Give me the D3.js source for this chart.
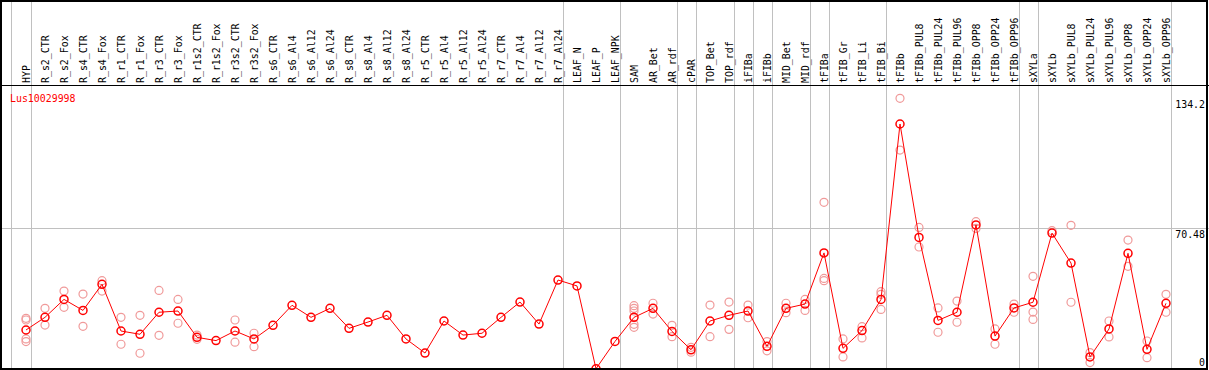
<!DOCTYPE html>
<html>
<head>
<meta charset="utf-8">
<script src="https://cdn.jsdelivr.net/npm/d3@7"></script>
<style>
  body { margin: 0; background: #fff; }
  svg { display: block; }
  text { font-family: "DejaVu Sans Mono", monospace; font-size: 11px; }
</style>
</head>
<body>
<svg width="1209" height="370"></svg>
<script>
var categories = ["HYP", "R_s2_CTR", "R_s2_Fox", "R_s4_CTR", "R_s4_Fox", "R_r1_CTR", "R_r1_Fox",
    "R_r3_CTR", "R_r3_Fox", "R_r1s2_CTR", "R_r1s2_Fox", "R_r3s2_CTR", "R_r3s2_Fox", "R_s6_CTR",
    "R_s6_Al4", "R_s6_Al12", "R_s6_Al24", "R_s8_CTR", "R_s8_Al4", "R_s8_Al12", "R_s8_Al24",
    "R_r5_CTR", "R_r5_Al4", "R_r5_Al12", "R_r5_Al24", "R_r7_CTR", "R_r7_Al4", "R_r7_Al12",
    "R_r7_Al24", "LEAF_N", "LEAF_P", "LEAF_NPK", "SAM", "AR_Bet", "AR_rdf", "cPAR", "TOP_Bet",
    "TOP_rdf", "iFIBa", "iFIBb", "MID_Bet", "MID_rdf", "tFIBa", "tFIB_Gr", "tFIB_Li", "tFIB_Bi",
    "tFIBb", "tFIBb_PUL8", "tFIBb_PUL24", "tFIBb_PUL96", "tFIBb_OPP8", "tFIBb_OPP24",
    "tFIBb_OPP96", "sXYLa", "sXYLb", "sXYLb_PUL8", "sXYLb_PUL24", "sXYLb_PUL96", "sXYLb_OPP8",
    "sXYLb_OPP24", "sXYLb_OPP96"];

var means = [20.6, 26.8, 35.6, 30.2, 43.0, 20.1, 18.5, 29.3, 29.9, 17.0, 15.4, 20.1, 16.2,
    22.9, 32.7, 26.8, 31.2, 21.4, 24.5, 27.8, 16.2, 9.3, 25.0, 18.1, 19.0, 26.8, 34.3, 23.5,
    45.1, 42.2, 1.6, 15.0, 26.8, 31.2, 19.9, 10.9, 25.0, 27.8, 29.9, 12.6, 31.2, 33.3, 58.4,
    11.6, 20.3, 35.6, 121.6, 66.0, 25.3, 29.3, 72.1, 17.6, 31.4, 34.2, 68.1, 53.4, 7.4, 21.1,
    58.2, 11.1, 33.7];

// individual replicates, one list per category
var replicates = [
    [26.3, 25.5, 16.2, 14.9], [31.2, 23.0], [39.7, 31.7], [38.2, 22.4], [44.8, 39.7],
    [26.8, 13.6], [27.8, 9.2], [40.0, 18.0], [35.6, 23.9], [18.1, 16.0], [], [25.5, 14.6],
    [19.0, 12.4], [], [], [], [], [], [], [], [], [], [], [], [], [], [], [], [], [], [], [],
    [32.5, 31.2, 29.9, 23.4, 21.9], [33.7, 28.4], [22.9, 17.3], [12.1, 9.7], [32.8, 17.3],
    [34.3, 20.9], [32.8, 26.6], [14.9, 10.4], [33.7, 29.1], [35.6, 30.2], [83.2, 45.9, 44.8],
    [16.2, 7.4], [22.2, 16.7], [39.4, 38.1, 30.7], [134.2, 108.8], [70.9, 61.3], [31.4, 19.5],
    [34.8, 24.4], [73.7, 70.4], [21.1, 13.6], [33.3, 29.3], [46.9, 29.4, 25.8], [69.3],
    [71.9, 34.2], [9.5, 4.6], [25.0, 17.2], [64.7, 51.8], [15.2, 7.0], [38.1, 29.3]];

// last category of each group (a separator is drawn after it)
var groupEnds = ["HYP", "R_r7_Al24", "LEAF_NPK", "AR_rdf", "cPAR", "TOP_rdf", "iFIBa", "iFIBb",
    "MID_rdf", "tFIBa", "tFIB_Bi", "tFIBb_OPP96", "sXYLa", "sXYLb_OPP96"];

var yTicks = [134.2, 70.48, 0];
var title = "Lus10029998";

var W = 1209, H = 370, headerY = 85.5;

var svg = d3.select("svg");

var x = d3.scalePoint().domain(categories).range([26, 1166]);
var y = d3.scaleLinear().domain([0, 134.2]).range([372, 98.3]);

svg.append("clipPath").attr("id", "plotclip")
    .append("rect").attr("x", 2).attr("y", headerY + 1).attr("width", 1204).attr("height", 368 - headerY - 1);

// separators
var seps = [x(categories[0]) - 15.3].concat(groupEnds.map(c => x(c) + 4.7));
svg.selectAll(".sep")
    .data(seps)
    .enter().append("line")
    .attr("class", "sep")
    .attr("x1", d => Math.round(d) + 0.5).attr("x2", d => Math.round(d) + 0.5)
    .attr("y1", 0).attr("y2", H)
    .attr("stroke", "#c0c0c0").attr("stroke-width", 1);

// middle gridline
svg.append("line")
    .attr("x1", 0).attr("x2", W)
    .attr("y1", Math.round(y(yTicks[1])) + 0.5).attr("y2", Math.round(y(yTicks[1])) + 0.5)
    .attr("stroke", "#c0c0c0");

// header line and frame
svg.append("line")
    .attr("x1", 0).attr("x2", W).attr("y1", headerY).attr("y2", headerY)
    .attr("stroke", "#000");
svg.append("rect")
    .attr("x", 1).attr("y", 1).attr("width", 1206).attr("height", 368)
    .attr("fill", "none").attr("stroke", "#000").attr("stroke-width", 2);

// column labels
svg.selectAll(".lab")
    .data(categories)
    .enter().append("text")
    .attr("class", "lab")
    .attr("transform", d => "translate(" + (x(d) + 3.5) + ",83) rotate(-90) scale(0.9,1)")
    .text(d => d);

// right axis labels
svg.selectAll(".ytick")
    .data(yTicks)
    .enter().append("text")
    .attr("class", "ytick")
    .attr("text-anchor", "end")
    .attr("transform", d => "translate(1205," + Math.min(y(d) + 10, 365.5) + ") scale(0.9,1)")
    .text(d => d);

svg.append("text")
    .attr("transform", "translate(10,101.5) scale(0.9,1)")
    .attr("fill", "#ff0000")
    .text(title);

var plot = svg.append("g").attr("clip-path", "url(#plotclip)");

var reps = [];
replicates.forEach(function (r, i) {
    r.forEach(v => reps.push({ c: categories[i], v: v }));
});

plot.selectAll(".rep")
    .data(reps)
    .enter().append("circle")
    .attr("class", "rep")
    .attr("cx", d => x(d.c))
    .attr("cy", d => y(d.v))
    .attr("r", 4)
    .attr("fill", "none")
    .attr("stroke", "#f09a9a")
    .attr("stroke-width", 1.2);

var line = d3.line()
    .x((d, i) => x(categories[i]))
    .y(d => y(d));

plot.append("path")
    .datum(means)
    .attr("d", line)
    .attr("fill", "none")
    .attr("stroke", "#ff0000")
    .attr("stroke-width", 1);

plot.selectAll(".mean")
    .data(means)
    .enter().append("circle")
    .attr("class", "mean")
    .attr("cx", (d, i) => x(categories[i]))
    .attr("cy", d => y(d))
    .attr("r", 4)
    .attr("fill", "none")
    .attr("stroke", "#ff0000")
    .attr("stroke-width", 1.5);
</script>
</body>
</html>
